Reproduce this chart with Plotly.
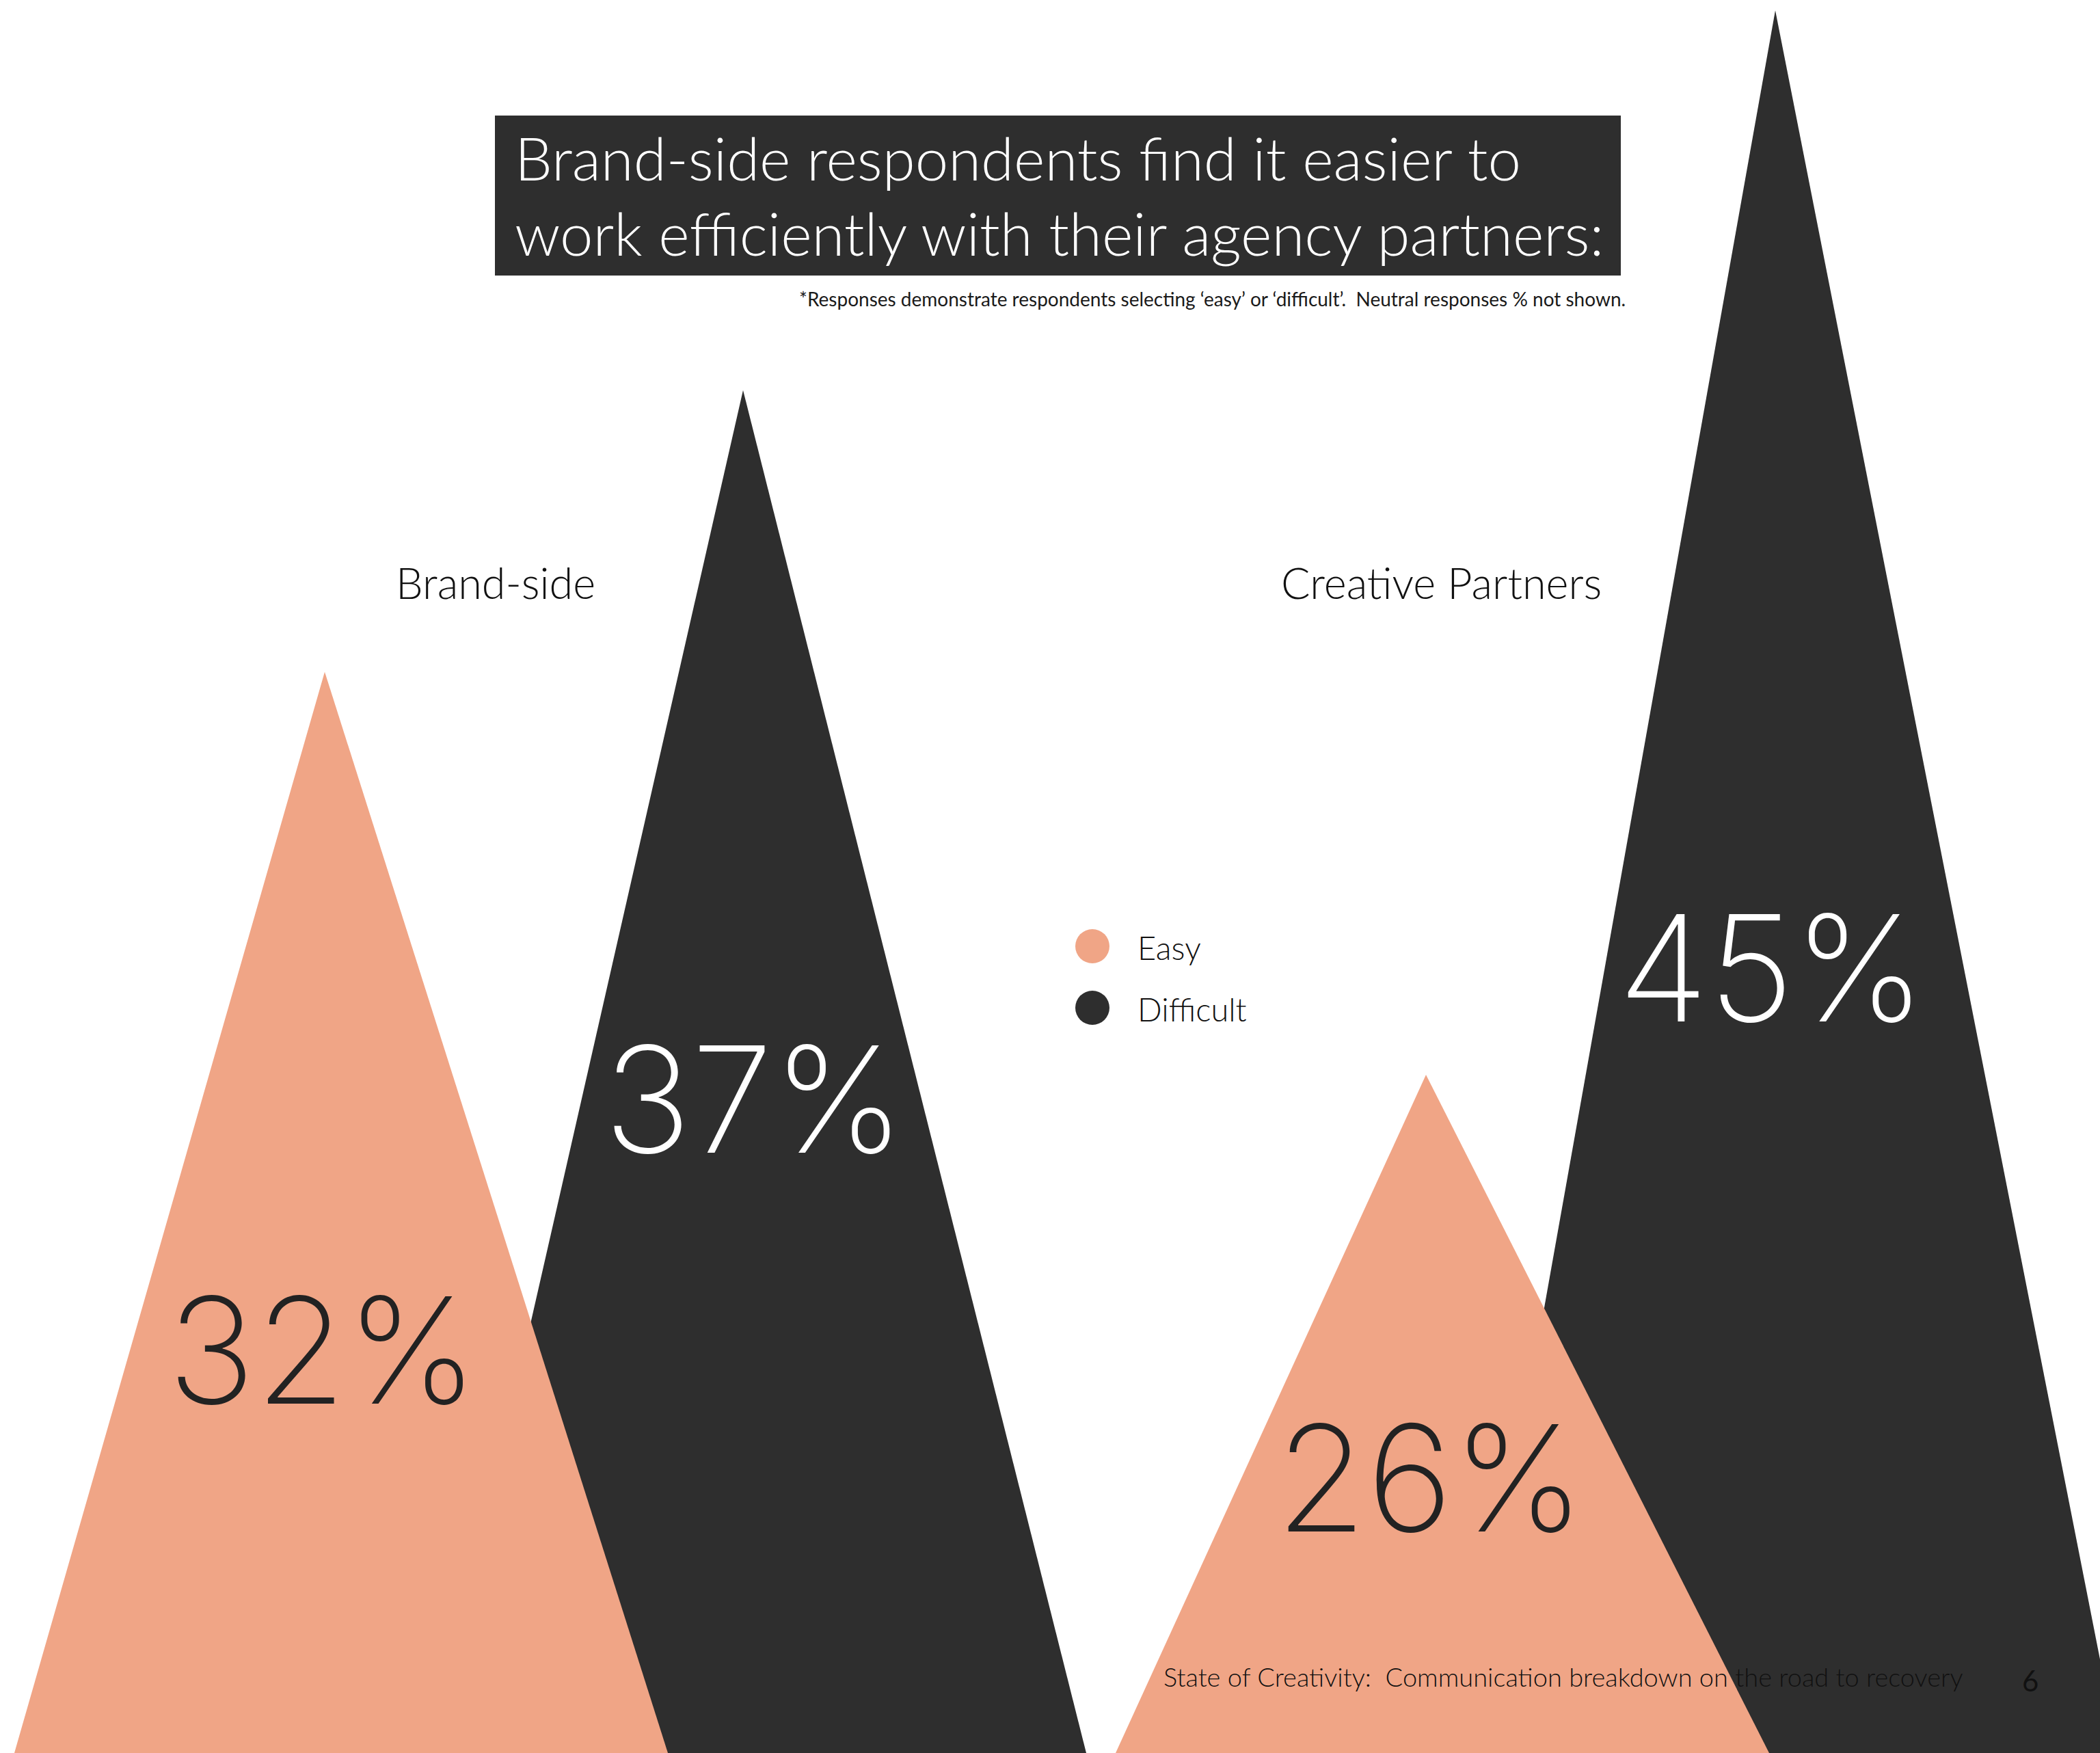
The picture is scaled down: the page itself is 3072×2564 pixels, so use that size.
import math
import plotly.graph_objects as go

# ---------------- data ----------------
GROUPS = ["Brand-side", "Creative Partners"]
SERIES = ["Easy", "Difficult"]
EASY = [32, 26]
DIFFICULT = [37, 45]
TITLE_LINES = ["Brand-side respondents find it easier to",
               "work efficiently with their agency partners:"]
NOTE = "*Responses demonstrate respondents selecting \u2018easy\u2019 or \u2018difficult\u2019.  Neutral responses % not shown."
FOOTER = "State of Creativity:  Communication breakdown on the road to recovery"
PAGE = "6"

# ---------------- layout constants (pixels) ----------------
W, H = 3072, 2564
C_EASY = "#F0A586"
C_DIFF = "#2E2E2E"
APEX_X = {"Easy": [475, 2086], "Difficult": [1087, 2597]}
BASE_LEFT, BASE_RIGHT = 454, 502
LABEL_X = {"Easy": [472, 2092], "Difficult": [1103, 2592]}
LABEL_PY = {"Easy": [1974, 2161], "Difficult": [1607, 1415]}
LABEL_COLOR = {"Easy": "#222222", "Difficult": "#FFFFFF"}
GROUP_LABEL_X = [725, 2108]
Y_RANGE = [1.26315, 1.65553]          # log10 of value at bottom / top of page
Y_BASE = 10 ** Y_RANGE[0]

VALUES = {"Easy": EASY, "Difficult": DIFFICULT}
COLORS = {"Easy": C_EASY, "Difficult": C_DIFF}

TXT_FONT = "Lato"
NUM_FONT = "Inter"


def py(p):
    return 1 - p / H


fig = go.Figure()

# difficult first, easy on top
for s in ["Difficult", "Easy"]:
    for gi, g in enumerate(GROUPS):
        v = VALUES[s][gi]
        ax = APEX_X[s][gi]
        fig.add_trace(go.Scatter(
            x=[ax - BASE_LEFT, ax, ax + BASE_RIGHT, ax - BASE_LEFT],
            y=[Y_BASE, v, Y_BASE, Y_BASE],
            mode="lines", fill="toself", fillcolor=COLORS[s],
            line=dict(width=0, color=COLORS[s]),
            name=s, showlegend=False, hoverinfo="skip",
        ))

annotations = []
shapes = []

# value labels
for s in SERIES:
    for gi, g in enumerate(GROUPS):
        annotations.append(dict(
            x=LABEL_X[s][gi], y=py(LABEL_PY[s][gi]), xref="x", yref="paper",
            text=f"{VALUES[s][gi]}%", showarrow=False,
            xanchor="center", yanchor="middle",
            font=dict(family=NUM_FONT, size=216, color=LABEL_COLOR[s], weight=150),
        ))

# group labels
for gi, g in enumerate(GROUPS):
    annotations.append(dict(
        x=GROUP_LABEL_X[gi], y=py(852), xref="x", yref="paper",
        text=g, showarrow=False, xanchor="center", yanchor="middle",
        font=dict(family=TXT_FONT, size=63, color="#111111", weight=300),
    ))

# title box
shapes.append(dict(type="rect", xref="x", yref="paper",
                   x0=724, x1=2371, y0=py(403), y1=py(169),
                   fillcolor=C_DIFF, line=dict(width=0), layer="above"))
for i, line in enumerate(TITLE_LINES):
    annotations.append(dict(
        x=751, y=py(230 + 111 * i), xref="x", yref="paper",
        text=line, showarrow=False, xanchor="left", yanchor="middle",
        font=dict(family=TXT_FONT, size=87, color="#FFFFFF", weight=300),
    ))

annotations.append(dict(
    x=2380, y=py(437), xref="x", yref="paper", text=NOTE, showarrow=False,
    xanchor="right", yanchor="middle",
    font=dict(family=TXT_FONT, size=28, color="#1A1A1A", weight=400),
))

# legend
for i, s in enumerate(SERIES):
    cy = 1384 + 90 * i
    shapes.append(dict(type="circle", xref="x", yref="paper",
                       x0=1598 - 25, x1=1598 + 25, y0=py(cy + 25), y1=py(cy - 25),
                       fillcolor=COLORS[s], line=dict(width=0)))
    annotations.append(dict(
        x=1662, y=py(cy + 2), xref="x", yref="paper", text=s, showarrow=False,
        xanchor="left", yanchor="middle",
        font=dict(family=TXT_FONT, size=47, color="#111111", weight=300),
    ))

# footer
annotations.append(dict(
    x=1700, y=py(2452), xref="x", yref="paper", text=FOOTER, showarrow=False,
    xanchor="left", yanchor="middle",
    font=dict(family=TXT_FONT, size=38, color="#111111", weight=300),
))
annotations.append(dict(
    x=2970, y=py(2458), xref="x", yref="paper", text=PAGE, showarrow=False,
    xanchor="center", yanchor="middle",
    font=dict(family=TXT_FONT, size=42, color="#111111", weight=400),
))

fig.update_layout(
    width=W, height=H, autosize=False,
    margin=dict(l=0, r=0, t=0, b=0, pad=0),
    paper_bgcolor="#FFFFFF", plot_bgcolor="#FFFFFF",
    xaxis=dict(range=[0, W], visible=False, fixedrange=True),
    yaxis=dict(type="log", range=Y_RANGE, visible=False, fixedrange=True),
    shapes=shapes, annotations=annotations, showlegend=False,
)

fig.write_html("out.html", config={"displayModeBar": False})
